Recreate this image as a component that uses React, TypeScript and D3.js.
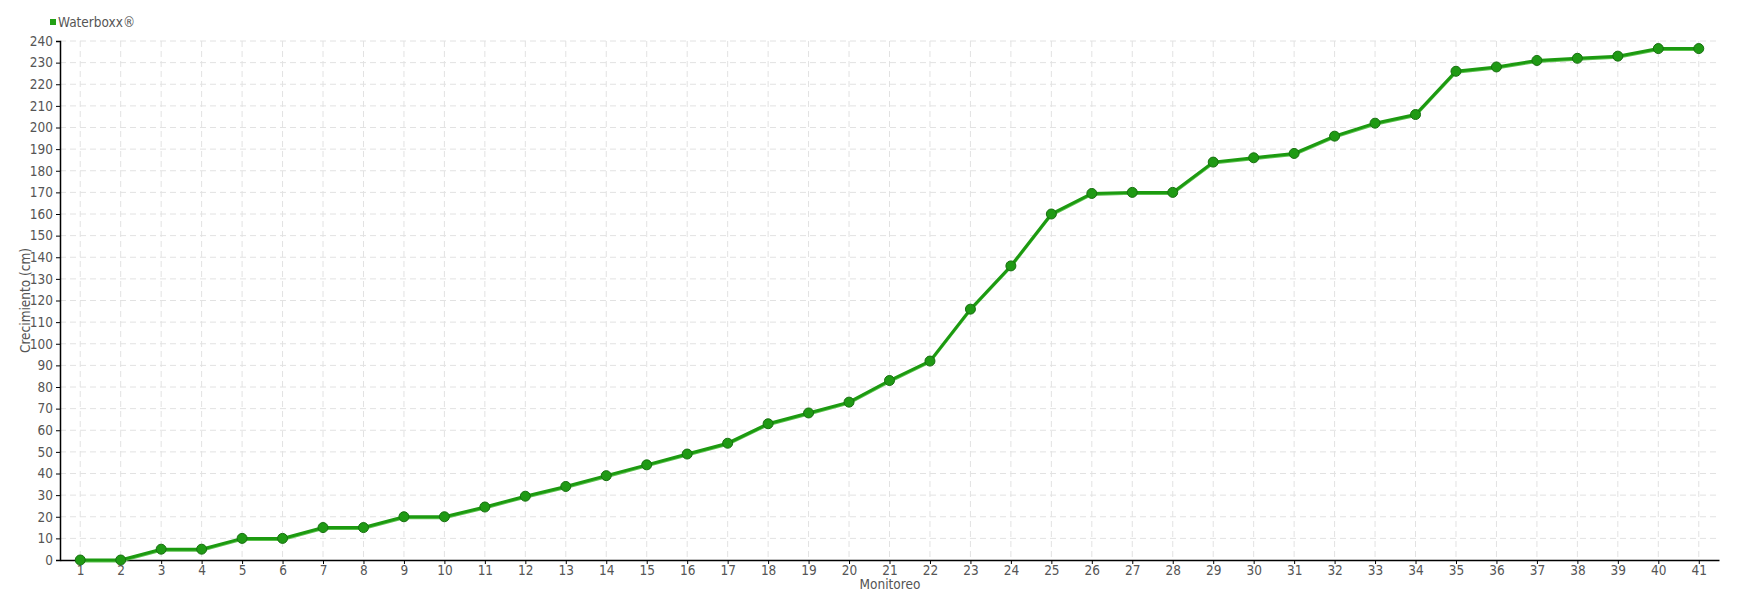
import { useEffect, useRef } from "react";
import * as d3 from "d3";

const categories = Array.from({ length: 41 }, (_, i) => String(i + 1));
const growth = [
  0, 0, 5, 5, 10, 10, 15, 15, 20, 20,
  24.5, 29.5, 34, 39, 44, 49, 54, 63, 68, 73,
  83, 92, 116, 136, 160, 169.5, 170, 170, 184, 186,
  188, 196, 202, 206, 226, 228, 231, 232, 233, 236.5,
  236.5,
];
const yTicks = d3.range(0, 241, 10);
const seriesName = "Waterboxx®";

const FONT = "'DejaVu Sans Condensed', 'Liberation Sans Narrow', sans-serif";
const TEXT = "#555";

export default function App() {
  const svgRef = useRef<SVGSVGElement>(null);

  useEffect(() => {
    document.body.style.margin = "0";
    if (!svgRef.current) return;
    const svg = d3.select(svgRef.current);
    svg.selectAll("*").remove();

    const width = 1740;
    const height = 600;
    const left = 60;
    const right = 1719;
    const top = 41;
    const bottom = 560;

    const x = d3.scalePoint<string>().domain(categories).range([left, right]).padding(0.5);
    const y = d3.scaleLinear().domain([0, 240]).range([bottom, top]);

    svg.attr("width", width).attr("height", height);

    // grid
    const grid = svg.append("g").attr("stroke", "#e2e2e2").attr("stroke-dasharray", "6,4");
    yTicks.slice(1).forEach((t) => {
      grid.append("line")
        .attr("x1", left).attr("x2", right)
        .attr("y1", y(t)).attr("y2", y(t));
    });
    categories.forEach((c) => {
      grid.append("line")
        .attr("x1", x(c)!).attr("x2", x(c)!)
        .attr("y1", top).attr("y2", bottom);
    });

    // y axis
    const yAxis = svg.append("g")
      .attr("transform", `translate(${left},0)`)
      .call(d3.axisLeft(y).tickValues(yTicks).tickSize(4).tickPadding(3));
    yAxis.select(".domain").attr("stroke", "#000").attr("stroke-width", 1.5);
    yAxis.selectAll(".tick line").attr("stroke", "#000");
    yAxis.selectAll("text")
      .attr("fill", TEXT).attr("font-family", FONT).attr("font-size", 13.5);

    // x axis
    const xAxis = svg.append("g")
      .attr("transform", `translate(0,${bottom})`)
      .call(d3.axisBottom(x).tickSize(4).tickSizeOuter(0).tickPadding(1));
    xAxis.select(".domain").attr("stroke", "#000").attr("stroke-width", 1.5);
    xAxis.selectAll(".tick line").attr("stroke", "#000");
    xAxis.selectAll("text")
      .attr("fill", TEXT).attr("font-family", FONT).attr("font-size", 13.5);

    // axis titles
    svg.append("text")
      .attr("x", 890).attr("y", 589)
      .attr("text-anchor", "middle")
      .attr("fill", TEXT).attr("font-family", FONT).attr("font-size", 13.5)
      .text("Monitoreo");
    svg.append("text")
      .attr("transform", `translate(30,${(top + bottom) / 2}) rotate(-90)`)
      .attr("text-anchor", "middle")
      .attr("fill", TEXT).attr("font-family", FONT).attr("font-size", 13.5)
      .text("Crecimiento (cm)");

    // legend
    svg.append("rect")
      .attr("x", 50).attr("y", 19).attr("width", 6).attr("height", 6)
      .attr("fill", "#22a015");
    svg.append("text")
      .attr("x", 58).attr("y", 27)
      .attr("fill", TEXT).attr("font-family", FONT).attr("font-size", 13.5)
      .text(seriesName);

    // series
    const data = categories.map((c, i) => ({ c, v: growth[i] }));
    const line = d3.line<{ c: string; v: number }>()
      .x((d) => x(d.c)!)
      .y((d) => y(d.v));

    svg.append("path")
      .datum(data)
      .attr("d", line)
      .attr("fill", "none")
      .attr("stroke", "#5cc24f")
      .attr("stroke-width", 2)
      .attr("transform", "translate(0,1.5)");
    svg.append("path")
      .datum(data)
      .attr("d", line)
      .attr("fill", "none")
      .attr("stroke", "#1c9a10")
      .attr("stroke-width", 3);

    svg.append("g")
      .selectAll("circle")
      .data(data)
      .join("circle")
      .attr("cx", (d) => x(d.c)!)
      .attr("cy", (d) => y(d.v))
      .attr("r", 5)
      .attr("fill", "#1f9a14")
      .attr("stroke", "#177010")
      .attr("stroke-width", 1);
  }, []);

  return <svg ref={svgRef} style={{ display: "block" }} />;
}
